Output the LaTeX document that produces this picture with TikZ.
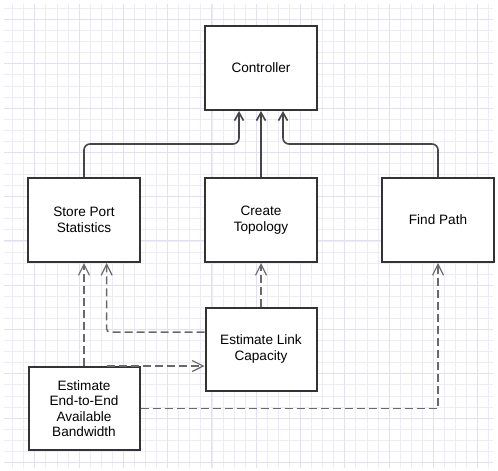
\documentclass[tikz,border=0pt]{standalone}
\usepackage{fontspec}
\setmainfont{Liberation Sans}
\usetikzlibrary{arrows.meta,calc}

\definecolor{gridminor}{RGB}{237,235,248}
\definecolor{gridmajor}{RGB}{227,224,243}
\definecolor{boxline}{RGB}{51,51,51}
\definecolor{flowline}{RGB}{70,70,70}
\definecolor{depline}{RGB}{105,105,105}

\tikzset{
  block/.style={draw=boxline, line width=2pt, fill=white,
    minimum width=112pt, minimum height=84pt, inner sep=2pt,
    align=center, font=\fontsize{13.6}{15.5}\selectfont},
  flow/.style={draw=flowline, line width=1.6pt,
    -{Straight Barb[length=8pt,width=9pt,line width=1.6pt]}},
  dep/.style={draw=depline, line width=1.5pt, dash pattern=on 8pt off 4pt,
    -{Straight Barb[length=11pt,width=11pt,line width=1.2pt]}},
}

\begin{document}
\begin{tikzpicture}[x=1pt,y=-1pt]
  \useasboundingbox (0,0) rectangle (498,471);
  \fill[white] (0,0) rectangle (498,471);

  % background grid
  \begin{scope}
    \clip (4,4) rectangle (493,467);
    \foreach \i in {0,...,44} {
      \draw[gridminor, line width=0.8pt] ({1.6+11.07*\i},0) -- ({1.6+11.07*\i},471);
      \draw[gridminor, line width=0.8pt] (0,{8.45+11.07*\i}) -- (498,{8.45+11.07*\i});
    }
    \foreach \i in {0,...,11} {
      \draw[gridmajor, line width=0.9pt] ({34.8+44.28*\i},0) -- ({34.8+44.28*\i},471);
      \draw[gridmajor, line width=0.9pt] (0,{19.5+44.28*\i}) -- (498,{19.5+44.28*\i});
    }
  \end{scope}

  % blocks
  \node[block] (ctrl)  at (261,68)  {Controller};
  \node[block] (store) at (84,220)  {Store Port\\Statistics};
  \node[block] (topo)  at (261,220) {Create\\Topology};
  \node[block] (find)  at (438,220) {Find Path};
  \node[block, minimum width=111pt, minimum height=83pt] (link) at (261,349) {Estimate Link\\Capacity};
  \node[block, minimum width=111pt, minimum height=83pt] (e2e)  at (84,408.5) {Estimate\\End-to-End\\Available\\Bandwidth};

  % attachment points
  \coordinate (ctrlL) at ($(ctrl.south)+(-22,0)$);
  \coordinate (ctrlR) at ($(ctrl.south)+(22,0)$);
  \coordinate (storeR) at ($(store.south)+(22.7,0)$);
  \coordinate (linkUp) at ($(link.west)+(0,-17)$);
  \coordinate (linkLo) at ($(link.west)+(0,17)$);

  % results reported to the controller
  \draw[flow, rounded corners=6pt] (store.north) |- ($(ctrlL)+(0,33)$) -- (ctrlL);
  \draw[flow] (topo.north) -- (ctrl.south);
  \draw[flow, rounded corners=6pt] (find.north) |- ($(ctrlR)+(0,33)$) -- (ctrlR);

  % dependencies
  \draw[dep] (e2e.north) -- (store.south);
  \draw[dep, rounded corners=3pt] (linkUp) -| (storeR);
  \draw[dep] (linkLo -| storeR) -- (linkLo);
  \draw[dep] (link.north) -- (topo.south);
  \draw[dep] (e2e.east) -| (find.south);
\end{tikzpicture}
\end{document}
